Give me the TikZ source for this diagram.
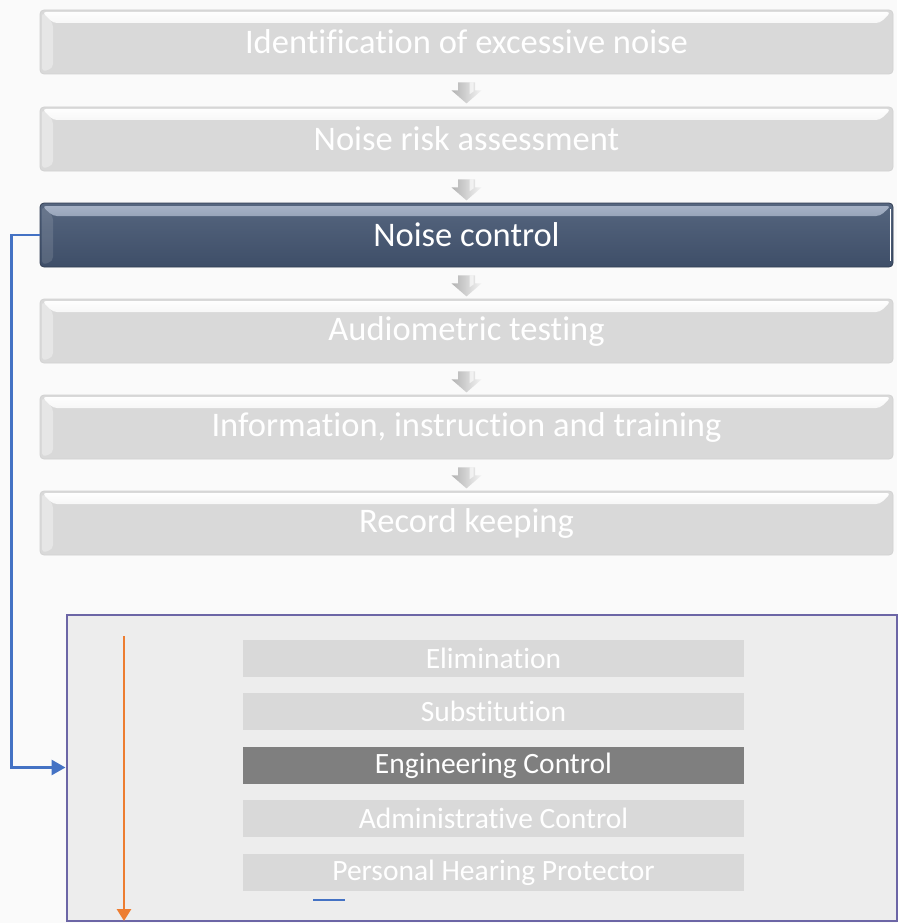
\documentclass[tikz,border=0pt]{standalone}
\usepackage{fontspec}
\setmainfont{Carlito}[RawFeature={-liga;-clig;-dlig;-calt}]
\usetikzlibrary{arrows.meta,calc}

\definecolor{pagebg}{HTML}{FAFAFA}
\definecolor{boxgray}{HTML}{D9D9D9}
\definecolor{boxedge}{HTML}{D2D2D2}
\definecolor{navytop}{HTML}{56667F}
\definecolor{navybot}{HTML}{3E4E68}
\definecolor{navyhi}{HTML}{A9B5C9}
\definecolor{panelfill}{HTML}{EDEDED}
\definecolor{panelline}{HTML}{6C66A6}
\definecolor{steporange}{HTML}{ED7D31}
\definecolor{linkblue}{HTML}{4472C4}
\definecolor{activegray}{HTML}{7F7F7F}
\definecolor{arrgray}{HTML}{B2B2B2}

\tikzset{
  stagebox/.style={rectangle, rounded corners=4pt, minimum width=853pt,
    minimum height=64pt, inner sep=0pt, text=white,
    font=\fontsize{34.5}{37}\selectfont},
  idlebox/.style={stagebox, fill=boxgray, draw=boxedge, line width=0.8pt,
    path picture={
      \shade[top color=white, bottom color=boxgray]
        ([shift={(2pt,-2pt)}]path picture bounding box.north west) --
        ([shift={(-2pt,-2pt)}]path picture bounding box.north east) --
        ([shift={(-13pt,-13pt)}]path picture bounding box.north east) --
        ([shift={(13pt,-13pt)}]path picture bounding box.north west) -- cycle;
      \fill[white, opacity=0.35]
        ([shift={(2pt,-2pt)}]path picture bounding box.north west) --
        ([shift={(13pt,-13pt)}]path picture bounding box.north west) --
        ([shift={(13pt,6pt)}]path picture bounding box.south west) --
        ([shift={(2pt,2pt)}]path picture bounding box.south west) -- cycle;
    }},
  activebox/.style={stagebox, top color=navytop, bottom color=navybot,
    draw=navybot!80!black, line width=0.8pt,
    path picture={
      \shade[top color=navyhi, bottom color=navytop]
        ([shift={(2pt,-3pt)}]path picture bounding box.north west) --
        ([shift={(-2pt,-3pt)}]path picture bounding box.north east) --
        ([shift={(-13pt,-13pt)}]path picture bounding box.north east) --
        ([shift={(13pt,-13pt)}]path picture bounding box.north west) -- cycle;
      \fill[white, opacity=0.12]
        ([shift={(2pt,-3pt)}]path picture bounding box.north west) --
        ([shift={(13pt,-13pt)}]path picture bounding box.north west) --
        ([shift={(13pt,6pt)}]path picture bounding box.south west) --
        ([shift={(2pt,2pt)}]path picture bounding box.south west) -- cycle;
      \draw[white, line width=1.5pt]
        ([shift={(-2.5pt,-6pt)}]path picture bounding box.north east) --
        ([shift={(-2.5pt,6pt)}]path picture bounding box.south east);
    }},
  levelbox/.style={rectangle, minimum width=501pt, minimum height=37pt,
    inner sep=0pt, fill=boxgray, text=white,
    font=\fontsize{29.5}{31}\selectfont},
  levelactive/.style={levelbox, fill=activegray},
  downarrow/.pic={
    \shade[left color=arrgray, right color=white!85!arrgray]
      (-8.5,0) -- (8.5,0) -- (8.5,8) -- (15,8) -- (0,21) -- (-15,8) -- (-8.5,8) -- cycle;
    \fill[white, opacity=0.6] (3,0) -- (7,0) -- (7,9) -- (3,12) -- cycle;
  },
  linkline/.style={draw=linkblue, line width=2.8pt,
    -{Triangle[width=15pt,length=14pt]}},
  orderline/.style={draw=steporange, line width=2.8pt,
    -{Triangle[width=14pt,length=12pt]}},
}

\begin{document}
\begin{tikzpicture}[x=1pt, y=-1pt]
  \fill[pagebg] (0,0) rectangle (897,923);
  \useasboundingbox (0,0) rectangle (897,923);

  % the six stages
  \node[idlebox]   (s1) at (466.5,42)  {Identification of excessive noise};
  \node[idlebox]   (s2) at (466.5,139) {Noise risk assessment};
  \node[activebox] (s3) at (466.5,235) {Noise control};
  \node[idlebox]   (s4) at (466.5,331) {Audiometric testing};
  \node[idlebox]   (s5) at (466.5,427) {Information, instruction and training};
  \node[idlebox]   (s6) at (466.5,523) {Record keeping};

  % block arrows between the stages
  \foreach \a in {s1,s2,s3,s4,s5}
    \pic at ($(\a.south)+(0,8)$) {downarrow};

  % hierarchy of controls panel
  \node[rectangle, draw=panelline, line width=2pt, fill=panelfill,
        minimum width=830pt, minimum height=306pt, inner sep=0pt]
        (panel) at (481.5,767.5) {};

  \node[levelbox]    (h1) at (493.5,658.5) {Elimination};
  \node[levelbox]    (h2) at (493.5,711.5) {Substitution};
  \node[levelactive] (h3) at (493.5,765.5) {Engineering Control};
  \node[levelbox]    (h4) at (493.5,818.5) {Administrative Control};
  \node[levelbox]    (h5) at (493.5,872.5) {Personal Hearing Protector};

  % order of preference
  \coordinate (ordtop) at (124,636);
  \coordinate (ordend) at (124,921);
  \draw[orderline] (ordtop) -- (ordend);

  % small mark under the last level
  \coordinate (markl) at (313,900);
  \coordinate (markr) at (345,900);
  \draw[linkblue, line width=1.2pt] (markl) -- (markr);

  % link from noise control to the panel
  \draw[linkline] (s3.west) -- ++(-28,0) |- (panel.west);
\end{tikzpicture}
\end{document}
